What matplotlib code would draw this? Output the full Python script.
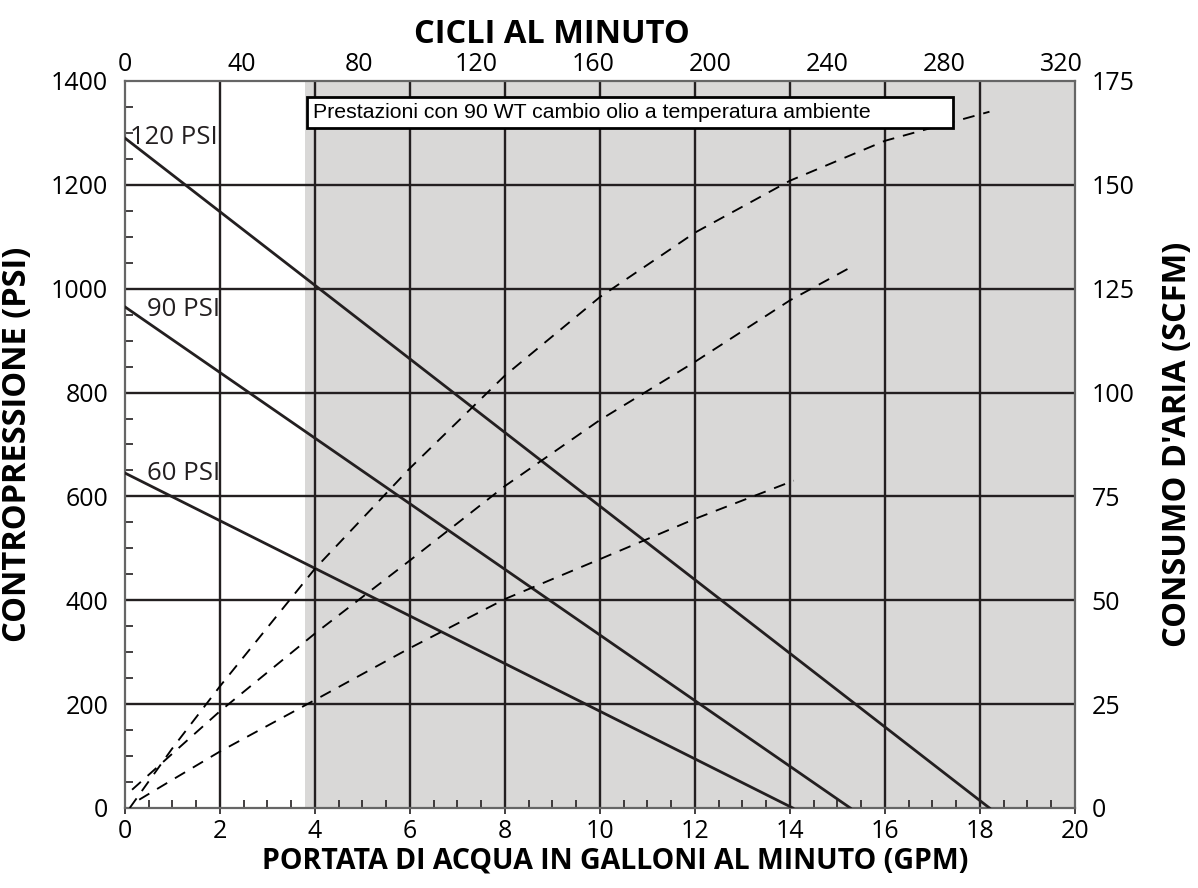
import matplotlib
matplotlib.use("Agg")
import matplotlib.pyplot as plt
from matplotlib.patches import Rectangle
from matplotlib.ticker import MultipleLocator

plt.rcParams['font.family'] = ['Open Sans', 'DejaVu Sans']
plt.rcParams['lines.scale_dashes'] = False

# ---- data ----
# Backpressure (PSI) lines vs water flow (GPM), one per inlet air pressure
press_labels = ["120 PSI", "90 PSI", "60 PSI"]
p120_gpm = [0.0, 18.2]
p120_psi = [1290, 0]
p90_gpm = [0.0, 15.27]
p90_psi = [965, 0]
p60_gpm = [0.0, 14.06]
p60_psi = [645, 0]

# Air consumption (SCFM) curves vs water flow (GPM)
a120_gpm = [0.1, 1, 2, 4, 6, 8, 10, 12, 14, 16, 18.2]
a120_scfm = [0.0, 14.4, 29.3, 57.6, 81.8, 104.1, 123.0, 138.5, 151.0, 160.6, 167.6]
a90_gpm = [0.15, 1, 2, 4, 6, 8, 10, 12, 14, 15.27]
a90_scfm = [4.4, 13.1, 23.3, 42.0, 59.6, 77.5, 93.4, 107.4, 122.2, 130.1]
a60_gpm = [0.3, 1, 2, 4, 6, 8, 10, 12, 14.08]
a60_scfm = [2.0, 6.8, 13.6, 26.0, 38.5, 50.3, 59.9, 69.6, 78.8]

x_ticks = [0, 2, 4, 6, 8, 10, 12, 14, 16, 18, 20]
y_ticks = [0, 200, 400, 600, 800, 1000, 1200, 1400]
y2_ticks = [0, 25, 50, 75, 100, 125, 150, 175]
top_ticks = [0, 40, 80, 120, 160, 200, 240, 280, 320]
CYCLES_PER_GPM = 16.24
shade_start = 3.8

note_text = "Prestazioni con 90 WT cambio olio a temperatura ambiente"

# ---- figure ----
fig = plt.figure(figsize=(11.98, 8.88), dpi=100)
ax = fig.add_axes([0.1043, 0.0901, 0.7930, 0.8187])

ink = "#231f20"
spine_col = "#666666"

ax.set_xlim(0, 20)
ax.set_ylim(0, 1400)
ax.axvspan(shade_start, 20, color="#d9d8d7", lw=0, zorder=0)

for xv in x_ticks[1:-1]:
    ax.axvline(xv, color=ink, lw=1.7, zorder=1)
for yv in y_ticks[1:-1]:
    ax.axhline(yv, color=ink, lw=1.7, zorder=1)

ax.plot(p120_gpm, p120_psi, color=ink, lw=2.0, zorder=3)
ax.plot(p90_gpm, p90_psi, color=ink, lw=2.0, zorder=3)
ax.plot(p60_gpm, p60_psi, color=ink, lw=2.0, zorder=3)

ax.text(0.1, 1291, press_labels[0], fontsize=18.5, ha="left", va="center", color=ink, zorder=4)
ax.text(0.47, 959, press_labels[1], fontsize=18.5, ha="left", va="center", color=ink, zorder=4)
ax.text(0.47, 645, press_labels[2], fontsize=18.5, ha="left", va="center", color=ink, zorder=4)

ax.set_xticks(x_ticks)
ax.set_yticks(y_ticks)
ax.xaxis.set_minor_locator(MultipleLocator(0.5))
ax.yaxis.set_minor_locator(MultipleLocator(50))
ax.tick_params(axis="x", which="major", direction="out", length=4, width=1.2, color=ink,
               labelsize=18, pad=4)
ax.tick_params(axis="y", which="major", direction="in", length=0, labelsize=18, pad=12)
ax.tick_params(axis="both", which="minor", direction="in", length=6, width=1.2, color=ink)
for s in ax.spines.values():
    s.set_color(spine_col)
    s.set_linewidth(1.6)

ax.set_xlabel("PORTATA DI ACQUA IN GALLONI AL MINUTO (GPM)", fontsize=20.5,
              fontweight="bold", labelpad=2)
ax.xaxis.label.set_x(0.516)
ax.set_ylabel("CONTROPRESSIONE (PSI)", fontsize=23.5, fontweight="bold", labelpad=12)

# right axis: air consumption
ax2 = ax.twinx()
ax2.set_ylim(0, 175)
ax2.set_yticks(y2_ticks)
ax2.tick_params(axis="y", length=0, labelsize=18, pad=12)
for s in ax2.spines.values():
    s.set_visible(False)
ax2.set_ylabel("CONSUMO D'ARIA (SCFM)", fontsize=23.5, fontweight="bold", labelpad=19)
dash = (8.5, 6.5)
for gx, sy in [(a120_gpm, a120_scfm), (a90_gpm, a90_scfm), (a60_gpm, a60_scfm)]:
    ax2.plot(gx, sy, color="black", lw=1.35, linestyle=(0, dash), zorder=3)

# top axis: cycles per minute
top = ax.secondary_xaxis("top", functions=(lambda g: g * CYCLES_PER_GPM,
                                           lambda c: c / CYCLES_PER_GPM))
top.set_xticks(top_ticks)
top.tick_params(axis="x", length=0, labelsize=18, pad=3)
top.spines["top"].set_visible(False)
top.set_xlabel("CICLI AL MINUTO", fontsize=23.5, fontweight="bold", labelpad=6)
top.xaxis.label.set_x(0.449)

# note box
ax2.add_patch(Rectangle((0.1915, 0.935), 0.68, 0.043, transform=ax.transAxes,
                        facecolor="white", edgecolor="black", lw=2, zorder=6))
ax2.text(0.1975, 0.957, note_text, transform=ax.transAxes, fontsize=15.3,
         family=["Liberation Sans", "DejaVu Sans"], ha="left", va="center",
         color="black", zorder=7)

fig.savefig("out.png", dpi=100)
